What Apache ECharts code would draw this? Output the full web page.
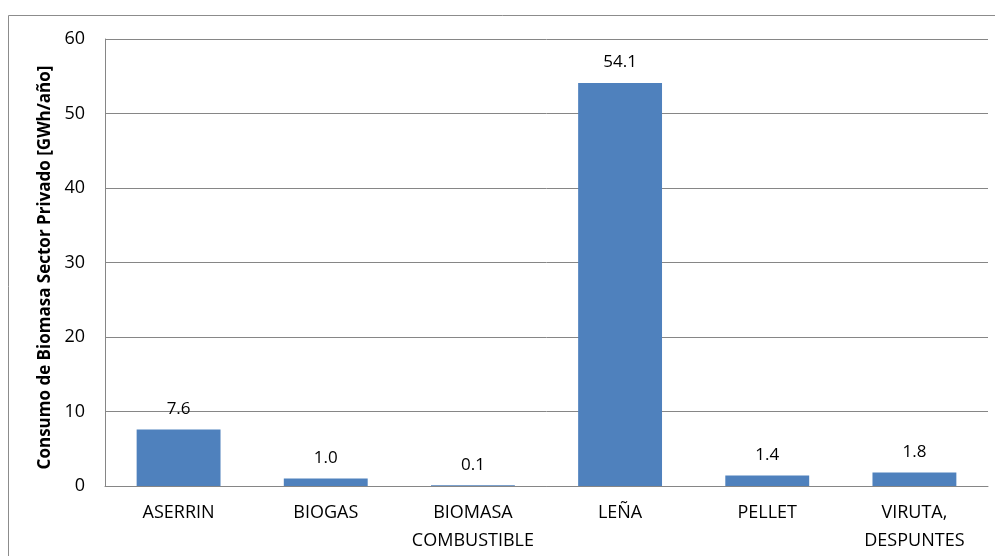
<!DOCTYPE html>
<html><head><meta charset="utf-8">
<script src="https://cdn.jsdelivr.net/npm/echarts@6/dist/echarts.min.js"></script>
<style>html,body{margin:0;padding:0;background:#fff}#c{width:995px;height:556px}</style>
</head><body><div id="c"></div>
<script>
const categories = ['ASERRIN', 'BIOGAS', 'BIOMASA\nCOMBUSTIBLE', 'LEÑA', 'PELLET', 'VIRUTA,\nDESPUNTES'];
const values = [7.6, 1.0, 0.1, 54.1, 1.4, 1.8];
const yTicks = [0, 10, 20, 30, 40, 50, 60];
const yTitle = 'Consumo de Biomasa Sector Privado [GWh/año]';

const FONT = '"Open Sans", "Noto Sans", sans-serif';
const chart = echarts.init(document.getElementById('c'), null, {renderer: 'canvas'});
chart.setOption({
  animation: false,
  graphic: [{type: 'rect', shape: {x: 8.5, y: 15.5, width: 1000, height: 600}, style: {fill: 'none', stroke: '#8c8c8c', lineWidth: 1}, silent: true}],
  grid: {left: 105, right: 7, top: 39, bottom: 70},
  xAxis: {
    type: 'category', data: categories,
    axisLine: {lineStyle: {color: '#868686', width: 1}},
    axisTick: {show: false},
    axisLabel: {color: '#000', fontFamily: FONT, fontSize: 18, margin: 13, lineHeight: 28, interval: 0}
  },
  yAxis: {
    type: 'value', min: yTicks[0], max: yTicks[yTicks.length - 1], interval: 10,
    name: yTitle, nameLocation: 'middle', nameGap: 50,
    nameTextStyle: {color: '#000', fontFamily: FONT, fontSize: 17, fontWeight: 'bold', padding: [0, 10, 0, 0]},
    axisLine: {show: true, lineStyle: {color: '#868686', width: 1}},
    axisTick: {show: false},
    splitLine: {lineStyle: {color: '#868686', width: 1}},
    axisLabel: {color: '#000', fontFamily: FONT, fontSize: 18, margin: 20}
  },
  series: [{
    type: 'bar', data: values, barCategoryGap: '43%',
    itemStyle: {color: '#4F81BD'},
    label: {show: true, position: 'top', distance: 12, color: '#000', fontFamily: FONT, fontSize: 17,
      formatter: p => p.value.toFixed(1)}
  }]
});
</script></body></html>
